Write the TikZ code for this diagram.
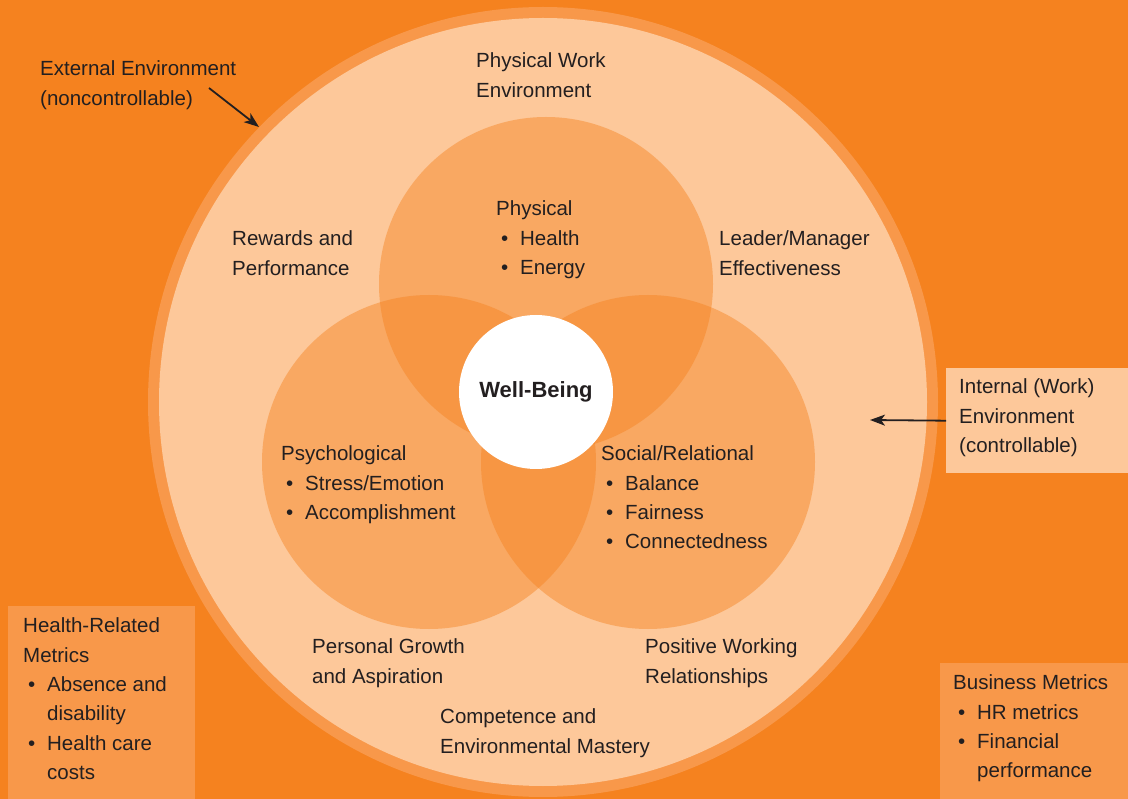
\documentclass[tikz,border=0pt]{standalone}
\usepackage{fontspec}
\setmainfont{Liberation Sans}
\usetikzlibrary{arrows.meta}
\definecolor{bgor}{HTML}{F5821F}
\definecolor{ringor}{HTML}{F8984A}
\definecolor{peach}{HTML}{FDC89A}
\definecolor{ink}{HTML}{231F20}
\newcommand{\bitem}[1]{\hspace*{5pt}\makebox[19pt][l]{•}#1}
\newcommand{\bcont}[1]{\hspace*{24pt}#1}
\tikzset{
  lbl/.style={anchor=north west, inner sep=0pt, align=left, text=ink,
    font=\fontsize{20.5}{29.4}\selectfont},
  petal/.style={circle, fill=bgor, fill opacity=0.45, minimum size=334pt, inner sep=0pt},
  panel/.style={anchor=north west, inner sep=0pt, draw=none},
  arr/.style={draw=ink, line width=1.8pt, -{Stealth[length=15pt,width=11pt,inset=4pt]}}
}
\begin{document}
\begin{tikzpicture}[x=1pt,y=-1pt]
\useasboundingbox (0,0) rectangle (1128,799);
\fill[bgor] (0,0) rectangle (1128,799);
% outer environment circle
\node[circle, fill=ringor, minimum size=790pt, inner sep=0pt] (outer) at (543,402) {};
\node[circle, fill=peach, minimum size=768pt, inner sep=0pt] (inner) at (543,402) {};
% three domains
\node[petal] (top) at (546,284) {};
\node[petal] (left) at (429,462) {};
\node[petal] (right) at (648,462) {};
% well-being
\node[circle, fill=white, minimum size=154pt, inner sep=0pt, text=ink,
  font=\fontsize{22}{24}\selectfont\bfseries] (wb) at (536,392) {Well-Being};
% side panels
\node[panel, fill=peach, minimum width=182pt, minimum height=105pt] (intbox) at (946,368) {};
\node[panel, fill=ringor, minimum width=187pt, minimum height=193pt] (healthbox) at (8,606) {};
\node[panel, fill=ringor, minimum width=188pt, minimum height=136pt] (busbox) at (940,663) {};
% labels
\node[lbl] (ext) at (40,55) {\strut External Environment\\(noncontrollable)};
\node[lbl] (phyw) at (476,47) {\strut Physical Work\\Environment};
\node[lbl] (phys) at (496,195) {\strut Physical\\\bitem{Health}\\\bitem{Energy}};
\node[lbl] (rew) at (232,225) {\strut Rewards and\\Performance};
\node[lbl] (lead) at (719,225) {\strut Leader/Manager\\Effectiveness};
\node[lbl] (intl) at (959,373) {\strut Internal (Work)\\Environment\\(controllable)};
\node[lbl] (psy) at (281,440) {\strut Psychological\\\bitem{Stress/Emotion}\\\bitem{Accomplishment}};
\node[lbl] (soc) at (601,440) {\strut Social/Relational\\\bitem{Balance}\\\bitem{Fairness}\\\bitem{Connectedness}};
\node[lbl] (pg) at (312,633) {\strut Personal Growth\\and Aspiration};
\node[lbl] (pw) at (645,633) {\strut Positive Working\\Relationships};
\node[lbl] (comp) at (440,703) {\strut Competence and\\Environmental Mastery};
\node[lbl] (hrm) at (23,612) {\strut Health-Related\\Metrics\\\bitem{Absence and}\\\bcont{disability}\\\bitem{Health care}\\\bcont{costs}};
\node[lbl] (bm) at (953,669) {\strut Business Metrics\\\bitem{HR metrics}\\\bitem{Financial}\\\bcont{performance}};
% arrows
\coordinate (extfrom) at (209,88);
\coordinate (extto) at (259,127);
\coordinate (intto) at (870,420);
\draw[arr] (extfrom) -- (extto);
\draw[arr] (intbox.west) -- (intto);
\end{tikzpicture}
\end{document}
